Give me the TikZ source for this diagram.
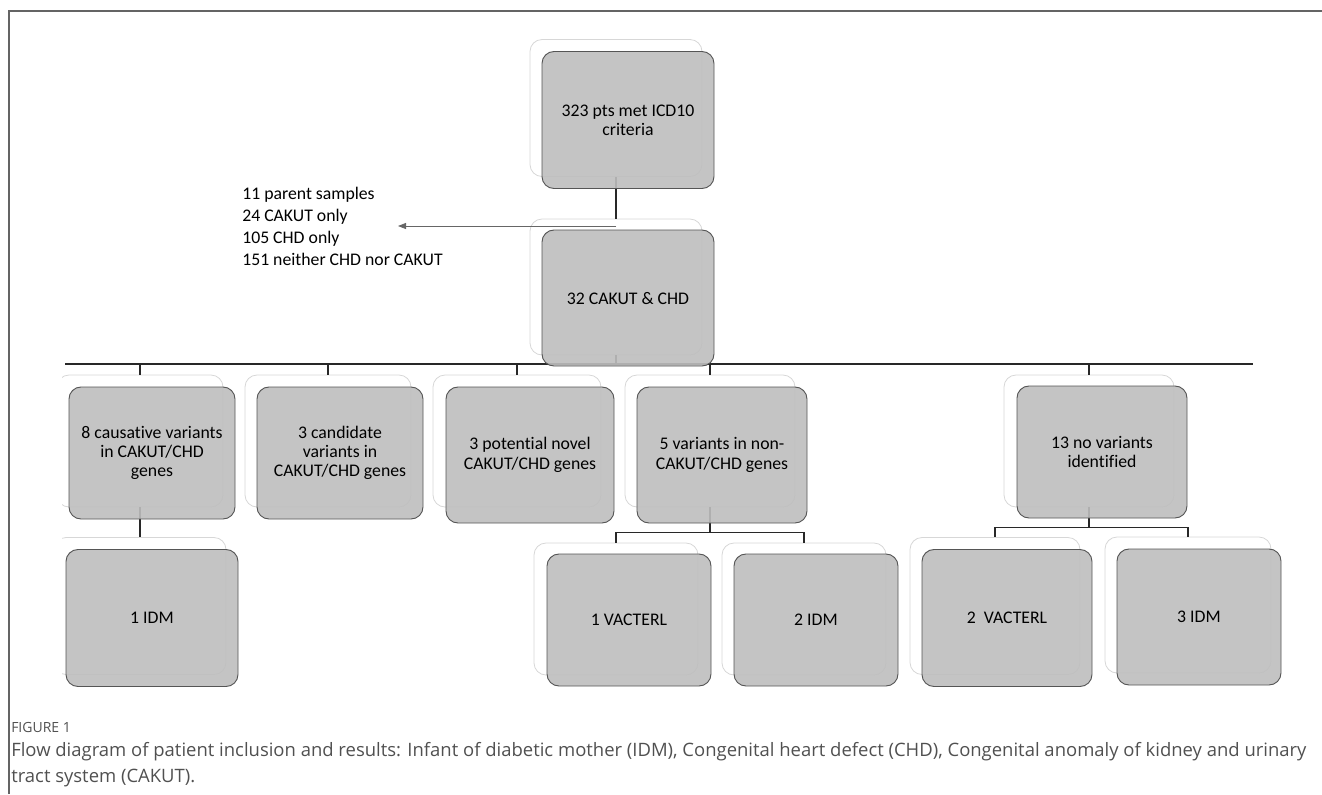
\documentclass[tikz,border=0pt]{standalone}
\usepackage{fontspec}
\setmainfont{Carlito}[Ligatures=NoCommon]
\newfontfamily\capfont{Open Sans}
\usetikzlibrary{arrows.meta}
\definecolor{boxfill}{RGB}{190,190,190}
\definecolor{boxline}{RGB}{85,85,85}
\definecolor{backline}{RGB}{215,215,215}
\definecolor{framecol}{RGB}{100,100,100}
\definecolor{capcol}{RGB}{80,80,80}
\definecolor{conn}{RGB}{40,40,40}
\tikzset{
  backbox/.style={draw=backline, fill=white, rounded corners=9pt, line width=0.6pt,
    minimum width=#1*0.75pt, inner sep=0pt},
  frontbox/.style={draw=boxline, fill=boxfill, fill opacity=0.9, text opacity=1,
    rounded corners=9pt, line width=0.7pt, minimum width=#1*0.75pt, inner sep=0pt,
    align=center, font=\fontsize{13.3}{14.5}\selectfont, text=black},
  h137/.style={minimum height=137*0.75pt},
  h132/.style={minimum height=132*0.75pt},
  h136/.style={minimum height=136*0.75pt},
  connector/.style={draw=conn, line width=0.9pt},
  sidearrow/.style={draw=black!60, line width=0.6pt, -{Triangle[length=6pt,width=4.5pt]}},
}
\begin{document}
\begin{tikzpicture}[x=0.75pt,y=-0.75pt]
\useasboundingbox (0,0) rectangle (1322,794);
% frame
\draw[framecol, line width=1.1pt] (9,794) -- (9,11) -- (1322,11);
\begin{scope}
\clip (62,12) rectangle (1322,700);
% back boxes
\node[backbox=172, h137] (topb) at (616,108) {};
\node[backbox=172, h136] (cakb) at (616,287) {};
\node[backbox=166, h132] (c1b) at (140,441) {};
\node[backbox=166, h132] (c2b) at (328,441) {};
\node[backbox=168, h132] (c3b) at (517,441) {};
\node[backbox=170, h132] (c4b) at (710,441) {};
\node[backbox=170, h132] (c5b) at (1089,441) {};
\node[backbox=172, h137] (d1b) at (140,606) {};
\node[backbox=164, h132] (d2b) at (616,609) {};
\node[backbox=164, h132] (d3b) at (804,609) {};
\node[backbox=170, h137] (d4b) at (995,606) {};
\node[backbox=166, h136] (d5b) at (1188,605) {};
% connectors
\draw[connector] (topb.south) -- (cakb.north);
\coordinate (split) at (616,226);
\coordinate (arrtip) at (398,226);
\draw[sidearrow] (split) -- (arrtip);
\coordinate (busL) at (65,364);
\coordinate (busR) at (1253,364);
\draw[connector] (busL) -- (busR);
\foreach \c in {c1b,c2b,c3b,c4b,c5b}{
  \draw[connector] (cakb.south) -- ++(0,9) -| (\c.north);
}
\draw[connector] (c1b.south) -- (c1b.south |- d1b.north);
\draw[connector] (c4b.south) -- ++(0,25) -| (d2b.north);
\draw[connector] (c4b.south) -- ++(0,25) -| (d3b.north);
\draw[connector] (c5b.south) -- ++(0,20) -| (d4b.north);
\draw[connector] (c5b.south) -- ++(0,20) -| (d5b.north);
% front boxes
\node[frontbox=172, h137] (top) at (628,120) {323 pts met ICD10\\criteria};
\node[frontbox=172, h136] (cak) at (628,298) {32 CAKUT \& CHD};
\node[frontbox=166, h132] (c1) at (152,453) {8 causative variants\\in CAKUT/CHD\\genes};
\node[frontbox=166, h132] (c2) at (340,453) {3 candidate\\variants in\\CAKUT/CHD genes};
\node[frontbox=168, h136] (c3) at (530,455) {3 potential novel\\CAKUT/CHD genes};
\node[frontbox=170, h136] (c4) at (722,455) {5 variants in non-\\CAKUT/CHD genes};
\node[frontbox=170, h132] (c5) at (1102,452) {13 no variants\\identified};
\node[frontbox=172, h137] (d1) at (152,618) {1 IDM};
\node[frontbox=164, h132] (d2) at (629,620) {1 VACTERL};
\node[frontbox=164, h132] (d3) at (816,620) {2 IDM};
\node[frontbox=170, h137] (d4) at (1007,618) {2\ \ VACTERL};
\node[frontbox=164, h136] (d5) at (1199,617) {3 IDM};
\end{scope}
% excluded list
\node[anchor=base west, align=left, inner sep=0pt, font=\fontsize{13.3}{16.3}\selectfont, text=black] (excl) at (242,265)
  {11 parent samples\\24 CAKUT only\\105 CHD only\\151 neither CHD nor CAKUT};
% caption
\node[anchor=base west, inner sep=0pt, font=\capfont\fontsize{10.5}{12}\selectfont, text=capcol] (figlab) at (11,732) {FIGURE 1};
\node[anchor=base west, align=left, inner sep=0pt, font=\capfont\fontsize{13.85}{18.9}\selectfont, text=capcol] (cap) at (11,782)
  {Flow diagram of patient inclusion and results: Infant of diabetic mother (IDM), Congenital heart defect (CHD), Congenital anomaly of kidney and urinary\\tract system (CAKUT).};
\end{tikzpicture}
\end{document}
